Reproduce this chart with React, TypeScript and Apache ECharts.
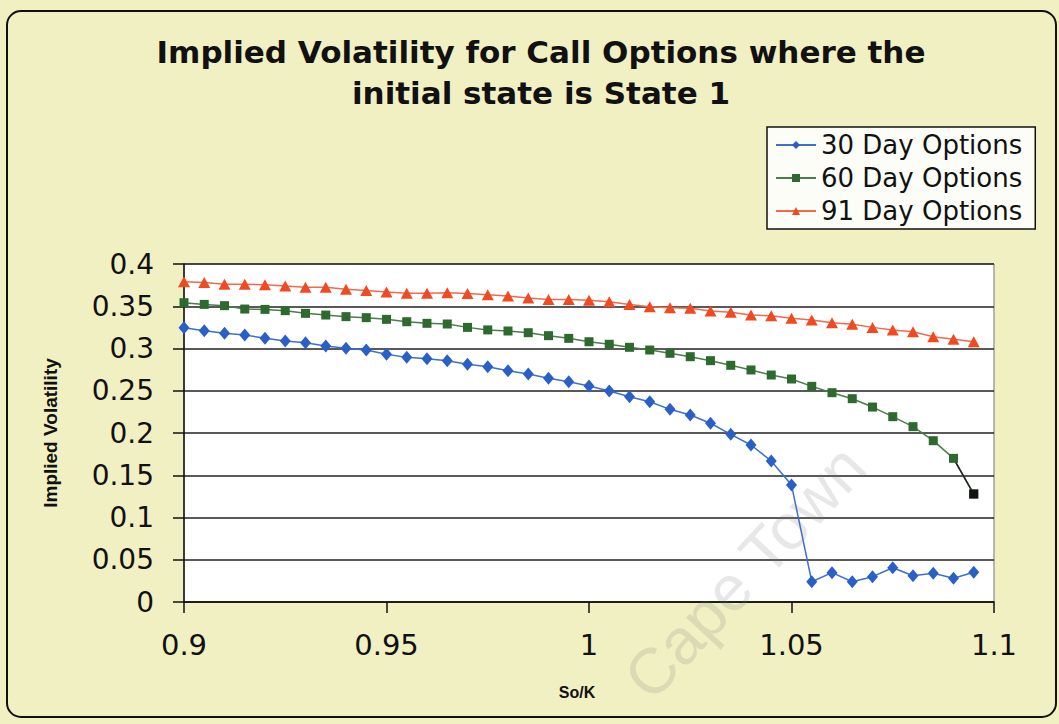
import React, { useEffect, useRef } from "react";
import * as echarts from "echarts";

const xValues = [
  0.9, 0.905, 0.91, 0.915, 0.92, 0.925, 0.93, 0.935, 0.94, 0.945,
  0.95, 0.955, 0.96, 0.965, 0.97, 0.975, 0.98, 0.985, 0.99, 0.995,
  1.0, 1.005, 1.01, 1.015, 1.02, 1.025, 1.03, 1.035, 1.04, 1.045,
  1.05, 1.055, 1.06, 1.065, 1.07, 1.075, 1.08, 1.085, 1.09, 1.095,
];

const day30 = [
  0.3246, 0.3211, 0.318, 0.316, 0.312, 0.3089, 0.3069, 0.303, 0.3002, 0.2982,
  0.2931, 0.2895, 0.288, 0.2856, 0.2813, 0.2785, 0.2738, 0.2698, 0.2647, 0.2607,
  0.2556, 0.2497, 0.243, 0.237, 0.228, 0.2213, 0.2115, 0.1984, 0.1858, 0.1669,
  0.1385, 0.024, 0.0347, 0.024, 0.03, 0.0406, 0.0311, 0.034, 0.028, 0.0351,
];

const day60 = [
  0.3542, 0.3522, 0.3507, 0.3467, 0.3463, 0.3448, 0.3416, 0.3396, 0.3377, 0.3365,
  0.3345, 0.3317, 0.3298, 0.329, 0.325, 0.322, 0.3207, 0.3187, 0.3152, 0.312,
  0.308, 0.305, 0.3014, 0.2982, 0.2943, 0.2903, 0.2856, 0.2801, 0.2746, 0.2686,
  0.2639, 0.2552, 0.2477, 0.2406, 0.2307, 0.2193, 0.2075, 0.1909, 0.17, 0.1278,
];

const day91 = [
  0.379, 0.378, 0.376, 0.376, 0.3755, 0.374, 0.3724, 0.3724, 0.37, 0.3685,
  0.367, 0.3653, 0.3653, 0.366, 0.365, 0.3637, 0.362, 0.3598, 0.358, 0.358,
  0.357, 0.3554, 0.352, 0.3495, 0.3483, 0.3475, 0.3444, 0.3428, 0.3396, 0.3388,
  0.3357, 0.3337, 0.3306, 0.3286, 0.325, 0.322, 0.3199, 0.314, 0.311, 0.308,
];

const seriesNames = ["30 Day Options", "60 Day Options", "91 Day Options"];
const titleText = "Implied Volatility for Call Options where the\ninitial state is State 1";
const yAxisTitle = "Implied Volatility";
const xAxisTitle = "So/K";
const watermark = "Cape Town";

const pair = (vals: number[]) => xValues.map((x, i) => [x, vals[i]]);

export default function App() {
  const ref = useRef<HTMLDivElement>(null);
  useEffect(() => {
    if (!ref.current) return;
    const chart = echarts.init(ref.current, null, { renderer: "svg" });
    const n = xValues.length;
    const tail = [
      { value: [xValues[n - 2], day60[n - 2]], symbol: "none" },
      { value: [xValues[n - 1], day60[n - 1]] },
    ];
    chart.setOption({
      animation: false,
      backgroundColor: "#f0f0c3",
      title: {
        text: titleText,
        left: 536,
        top: 26,
        textAlign: "center",
        textStyle: {
          fontFamily: "DejaVu Sans",
          fontWeight: "bold",
          fontSize: 31,
          lineHeight: 41,
          color: "#111",
        },
      },
      legend: {
        orient: "vertical",
        left: 767,
        top: 127,
        data: seriesNames,
        backgroundColor: "#fdfdf8",
        borderColor: "#111",
        borderWidth: 1.5,
        borderRadius: 0,
        padding: [5, 13, 5, 8],
        itemWidth: 40,
        itemHeight: 10,
        itemGap: 7,
        textStyle: {
          fontFamily: "DejaVu Sans",
          fontSize: 26,
          lineHeight: 26,
          color: "#111",
          padding: [0, 0, 0, 0],
        },
      },
      grid: {
        left: 184,
        right: 65,
        top: 264,
        bottom: 122,
        show: true,
        backgroundColor: "#ffffff",
        borderColor: "#777",
        borderWidth: 1,
      },
      xAxis: {
        type: "value",
        min: 0.9,
        max: 1.1,
        interval: 0.05,
        name: xAxisTitle,
        nameLocation: "middle",
        nameGap: 82,
        nameTextStyle: {
          fontFamily: "Liberation Sans",
          fontWeight: "bold",
          fontSize: 16,
          color: "#111",
          padding: [0, 24, 0, 0],
        },
        axisLine: { show: true, lineStyle: { color: "#111", width: 1.5 } },
        axisTick: { show: true, inside: false, length: 11, lineStyle: { color: "#111", width: 1.5 } },
        axisLabel: {
          margin: 28,
          fontFamily: "DejaVu Sans",
          fontSize: 29,
          color: "#111",
          formatter: (v: number) => String(Math.round(v * 100) / 100),
        },
        splitLine: { show: false },
      },
      yAxis: {
        type: "value",
        min: 0,
        max: 0.4,
        interval: 0.05,
        name: yAxisTitle,
        nameLocation: "middle",
        nameRotate: 90,
        nameGap: 124,
        nameTextStyle: {
          fontFamily: "Liberation Sans",
          fontWeight: "bold",
          fontSize: 19,
          color: "#111",
        },
        axisLine: { show: true, lineStyle: { color: "#111", width: 1.5 } },
        axisTick: { show: true, inside: false, length: 11, lineStyle: { color: "#111", width: 1.5 } },
        axisLabel: {
          margin: 30,
          fontFamily: "DejaVu Sans",
          fontSize: 28,
          color: "#111",
          formatter: (v: number) => String(Math.round(v * 100) / 100),
        },
        splitLine: { show: true, lineStyle: { color: "#222", width: 1.5 } },
      },
      graphic: [
        {
          type: "rect",
          silent: true,
          shape: { x: 7, y: 11, width: 1049, height: 706, r: 14 },
          style: { fill: "none", stroke: "#111", lineWidth: 2 },
          z: 100,
        },
        {
          type: "text",
          silent: true,
          x: 745,
          y: 572,
          rotation: 0.82,
          style: {
            text: watermark,
            font: "64px 'Liberation Sans'",
            fill: "rgba(120,120,120,0.18)",
            align: "center",
            verticalAlign: "middle",
          },
          z: 101,
        },
      ],
      series: [
        {
          name: seriesNames[0],
          type: "line",
          data: pair(day30),
          symbol: "diamond",
          symbolSize: [11, 13],
          itemStyle: { color: "#2b5fc8" },
          lineStyle: { color: "#3a6fd3", width: 1.5 },
        },
        {
          name: seriesNames[1],
          type: "line",
          data: pair(day60),
          symbol: "rect",
          symbolSize: 9,
          itemStyle: { color: "#2e6a2e" },
          lineStyle: { color: "#4a7d4a", width: 1.5 },
        },
        {
          name: "60 Day tail",
          type: "line",
          data: tail,
          symbol: "rect",
          symbolSize: 9,
          itemStyle: { color: "#111" },
          lineStyle: { color: "#222", width: 1.5 },
          z: 3,
        },
        {
          name: seriesNames[2],
          type: "line",
          data: pair(day91),
          symbol: "triangle",
          symbolSize: [12, 11],
          itemStyle: { color: "#f04a22" },
          lineStyle: { color: "#f06a4c", width: 1.5 },
        },
      ],
    });
    return () => chart.dispose();
  }, []);
  return (
    <div
      ref={ref}
      style={{ position: "fixed", left: 0, top: 0, width: 1059, height: 724 }}
    />
  );
}
